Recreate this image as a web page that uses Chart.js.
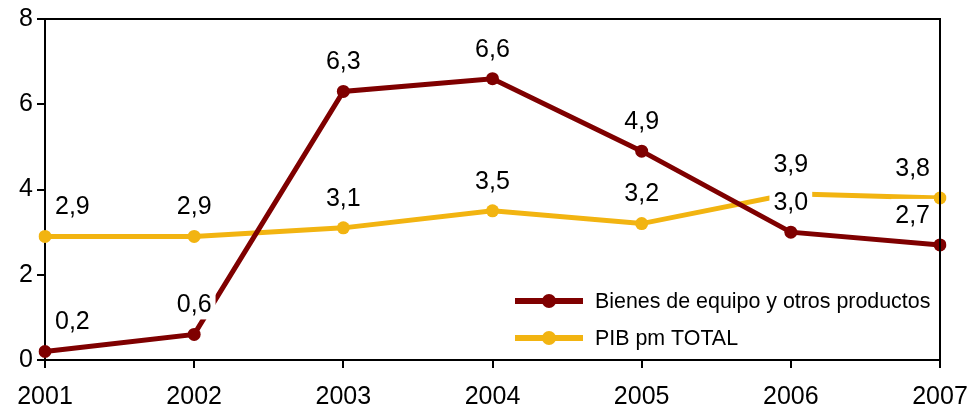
<!DOCTYPE html>
<html>
<head>
<meta charset="utf-8">
<script src="https://cdn.jsdelivr.net/npm/chart.js@4.4.0/dist/chart.umd.min.js"></script>
<style>
  html, body { margin: 0; padding: 0; background: #fff; }
  #wrap { width: 969px; height: 409px; }
</style>
</head>
<body>
<div id="wrap"><canvas id="myChart" width="969" height="409"></canvas></div>
<script>
// datos
const years = ['2001', '2002', '2003', '2004', '2005', '2006', '2007'];
const bienes = [0.2, 0.6, 6.3, 6.6, 4.9, 3.0, 2.7];
const pib = [2.9, 2.9, 3.1, 3.5, 3.2, 3.9, 3.8];
const yTicks = [0, 2, 4, 6, 8];

const RED = '#7f0000';
const YELLOW = '#f2b411';
const FONT = 'Arial, "Liberation Sans", sans-serif';

// etiquetas de datos encima de cada punto
const labelPlugin = {
    id: 'labels',
    afterDatasetsDraw(chart) {
        const ctx = chart.ctx;
        const area = chart.chartArea;
        ctx.save();
        ctx.font = '25px ' + FONT;
        ctx.textAlign = 'center';
        ctx.textBaseline = 'middle';
        [1, 0].forEach(di => {
            const meta = chart.getDatasetMeta(di);
            const values = chart.data.datasets[di].data;
            meta.data.forEach((pt, i) => {
                const txt = values[i].toFixed(1).replace('.', ',');
                const w = ctx.measureText(txt).width;
                let x = pt.x;
                if (x - w / 2 < area.left + 10) x = area.left + 10 + w / 2;
                if (x + w / 2 > area.right - 10) x = area.right - 10 - w / 2;
                const y = pt.y - 30;
                ctx.fillStyle = '#fff';
                ctx.fillRect(x - w / 2 - 4, y - 16, w + 8, 31);
                ctx.fillStyle = '#000';
                ctx.fillText(txt, x, y + 1);
            });
        });
        ctx.restore();
    }
};

// marco y leyenda dentro del area
const framePlugin = {
    id: 'frame',
    afterDraw(chart) {
        const ctx = chart.ctx;
        const a = chart.chartArea;
        ctx.save();
        ctx.strokeStyle = '#000';
        ctx.lineWidth = 2;
        ctx.beginPath();
        ctx.moveTo(a.left, a.top);
        ctx.lineTo(a.right, a.top);
        ctx.lineTo(a.right, a.bottom);
        ctx.stroke();

        const items = [
            { text: 'Bienes de equipo y otros productos', color: RED, y: 301 },
            { text: 'PIB pm TOTAL', color: YELLOW, y: 338 }
        ];
        ctx.font = '21.4px ' + FONT;
        ctx.textBaseline = 'middle';
        items.forEach(it => {
            ctx.strokeStyle = it.color;
            ctx.lineWidth = 6;
            ctx.beginPath();
            ctx.moveTo(515, it.y);
            ctx.lineTo(583, it.y);
            ctx.stroke();
            ctx.fillStyle = it.color;
            ctx.beginPath();
            ctx.arc(549, it.y, 7, 0, Math.PI * 2);
            ctx.fill();
            ctx.fillStyle = '#000';
            ctx.fillText(it.text, 595, it.y + 1);
        });
        ctx.restore();
    }
};

const ctx = document.getElementById('myChart').getContext('2d');
const myChart = new Chart(ctx, {
    type: 'line',
    data: {
        labels: years,
        datasets: [
            {
                label: 'Bienes de equipo y otros productos',
                data: bienes,
                borderColor: RED,
                backgroundColor: RED,
                borderWidth: 5,
                pointRadius: 6.5,
                pointBorderWidth: 0,
                tension: 0,
                order: 1
            },
            {
                label: 'PIB pm TOTAL',
                data: pib,
                borderColor: YELLOW,
                backgroundColor: YELLOW,
                borderWidth: 5,
                pointRadius: 6.5,
                pointBorderWidth: 0,
                tension: 0,
                order: 2
            }
        ]
    },
    options: {
        responsive: false,
        animation: false,
        layout: { padding: { top: 19, right: 29, left: 0, bottom: 0 } },
        plugins: {
            legend: { display: false },
            tooltip: { enabled: false }
        },
        scales: {
            x: {
                offset: false,
                afterFit(axis) {
                    axis.height = 49;
                    axis.paddingLeft = 0;
                    axis.paddingRight = 0;
                },
                grid: { drawOnChartArea: false, color: '#000', lineWidth: 2, tickLength: 8 },
                border: { color: '#000', width: 2 },
                ticks: { color: '#000', font: { size: 25, family: FONT }, padding: 14, maxRotation: 0 }
            },
            y: {
                min: 0,
                max: 8,
                afterBuildTicks(axis) { axis.ticks = yTicks.map(v => ({ value: v })); },
                afterFit(axis) {
                    axis.width = 45;
                    axis.paddingTop = 0;
                    axis.paddingBottom = 0;
                },
                grid: { drawOnChartArea: false, color: '#000', lineWidth: 2, tickLength: 8 },
                border: { color: '#000', width: 2 },
                ticks: { color: '#000', font: { size: 25, family: FONT }, padding: 4 }
            }
        }
    },
    plugins: [labelPlugin, framePlugin]
});
</script>
</body>
</html>
